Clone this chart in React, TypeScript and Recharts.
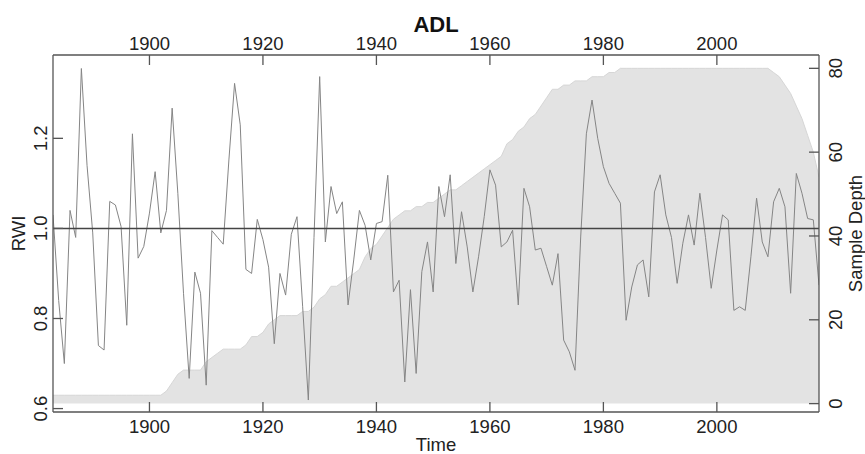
import { ComposedChart, Area, Line, XAxis, YAxis, ReferenceLine } from 'recharts';

// years 1883..2018
const firstYear = 1883;

const rwi = [
  1.03, 0.84, 0.70, 1.04, 0.98, 1.355, 1.14,
  0.99, 0.74, 0.73, 1.06, 1.052, 1.004, 0.785, 1.21, 0.934, 0.96,
  1.034, 1.126, 0.99, 1.04, 1.267, 1.078, 0.856, 0.667, 0.903, 0.856,
  0.652, 0.995, 0.98, 0.965, 1.152, 1.322, 1.23, 0.909, 0.90, 1.02,
  0.975, 0.914, 0.744, 0.90, 0.852, 0.987, 1.026, 0.826, 0.619, 0.98,
  1.337, 0.97, 1.093, 1.033, 1.059, 0.83, 0.93, 1.04, 1.007, 0.93,
  1.011, 1.015, 1.118, 0.859, 0.885, 0.659, 0.864, 0.678, 0.904, 0.97,
  0.859, 1.093, 1.026, 1.119, 0.922, 1.037, 0.959, 0.859, 0.937, 1.026,
  1.13, 1.096, 0.959, 0.97, 0.996, 0.83, 1.089, 1.048, 0.952, 0.956,
  0.915, 0.874, 0.944, 0.752, 0.726, 0.685, 0.981, 1.21, 1.285, 1.2,
  1.137, 1.1, 1.078, 1.056, 0.796, 0.87, 0.919, 0.93, 0.848, 1.081,
  1.119, 1.03, 0.98, 0.878, 0.967, 1.03, 0.963, 1.078, 0.98, 0.867,
  0.952, 1.03, 1.019, 0.818, 0.826, 0.818, 0.937, 1.067, 0.97, 0.937,
  1.059, 1.089, 1.048, 0.856, 1.122, 1.078, 1.022, 1.019, 0.874,
];

const sampleDepth = [
  2, 2, 2, 2, 2, 2, 2,
  2, 2, 2, 2, 2, 2, 2, 2, 2, 2,
  2, 2, 2, 3, 5, 7, 8, 8, 8, 8,
  10, 11, 12, 13, 13, 13, 13, 14, 16, 16,
  17, 19, 20, 21, 21, 21, 21, 22, 22, 23,
  25, 26, 28, 28, 29, 30, 31, 32, 35, 37,
  38, 40, 42, 44, 45, 46, 46, 47, 47, 48,
  48, 49, 50, 51, 51, 52, 53, 54, 55, 56,
  57, 58, 59, 62, 63, 65, 66, 68, 69, 71,
  73, 75, 75, 76, 76, 77, 77, 77, 78, 78,
  78, 79, 79, 80, 80, 80, 80, 80, 80, 80,
  80, 80, 80, 80, 80, 80, 80, 80, 80, 80,
  80, 80, 80, 80, 80, 80, 80, 80, 80, 80,
  79, 78, 76, 74, 71, 68, 64, 60, 54,
];

const yearTicks = [1900, 1920, 1940, 1960, 1980, 2000];
const rwiTicks = [0.6, 0.8, 1.0, 1.2];
const depthTicks = [0, 20, 40, 60, 80];

const data = rwi.map((v, i) => ({ year: firstYear + i, rwi: v, depth: sampleDepth[i] }));

const FONT = '"Liberation Sans", Arial, sans-serif';
const FS = 18.5;
const TXT = '#222';
const BOX = '#555';

const XTick = (props: any) => {
  const { x, y, payload } = props;
  return (
    <text x={x} y={y} textAnchor="middle" fontFamily={FONT} fontSize={FS} fill={TXT}>
      {payload.value}
    </text>
  );
};

const YTick = (props: any) => {
  const { x, y, payload, fmt } = props;
  return (
    <text x={x} y={y} transform={`rotate(-90 ${x} ${y})`} textAnchor="middle" fontFamily={FONT} fontSize={FS} fill={TXT}>
      {fmt ? fmt(payload.value) : payload.value}
    </text>
  );
};

export default function App() {
  return (
    <div style={{ position: 'absolute', left: 0, top: 0, background: '#fff' }}>
      <ComposedChart width={865} height={454} data={data} margin={{ top: 0, right: 0, bottom: 0, left: 0 }}>
        <XAxis
          xAxisId="bottom"
          dataKey="year"
          type="number"
          domain={[1883, 2018]}
          allowDataOverflow
          ticks={yearTicks}
          orientation="bottom"
          height={42}
          stroke={BOX}
          strokeWidth={1.3}
          tickSize={-10}
          tickMargin={30.5}
          tick={<XTick />}
          label={{
            content: (p: any) => {
              const vb = p.viewBox;
              return (
                <text x={vb.x + vb.width / 2} y={vb.y + 38.5} textAnchor="middle" fontFamily={FONT} fontSize={FS} fill={TXT}>
                  Time
                </text>
              );
            },
          }}
        />
        <XAxis
          xAxisId="top"
          dataKey="year"
          type="number"
          domain={[1883, 2018]}
          allowDataOverflow
          ticks={yearTicks}
          orientation="top"
          height={55}
          stroke={BOX}
          strokeWidth={1.3}
          tickSize={-10}
          tickMargin={15}
          tick={<XTick />}
          label={{
            content: (p: any) => {
              const vb = p.viewBox;
              return (
                <text x={vb.x + vb.width / 2} y={vb.y + 31.5} textAnchor="middle" fontFamily={FONT} fontSize={22} fontWeight="bold" fill="#111">
                  ADL
                </text>
              );
            },
          }}
        />
        <YAxis
          yAxisId="rwi"
          orientation="left"
          type="number"
          domain={[0.5924, 1.385]}
          allowDataOverflow
          ticks={rwiTicks}
          width={53}
          stroke={BOX}
          strokeWidth={1.3}
          tickSize={-10}
          tickMargin={16.3}
          tick={<YTick fmt={(v: number) => v.toFixed(1)} />}
          label={{
            content: (p: any) => {
              const vb = p.viewBox;
              const cx = vb.x + 25;
              const cy = vb.y + vb.height / 2;
              return (
                <text x={cx} y={cy} transform={`rotate(-90 ${cx} ${cy})`} textAnchor="middle" fontFamily={FONT} fontSize={FS} fill={TXT}>
                  RWI
                </text>
              );
            },
          }}
        />
        <YAxis
          yAxisId="depth"
          orientation="right"
          type="number"
          domain={[-2.0, 83.18]}
          allowDataOverflow
          ticks={depthTicks}
          width={46}
          stroke={BOX}
          strokeWidth={1.3}
          tickSize={-10}
          tickMargin={32.7}
          tick={<YTick />}
          label={{
            content: (p: any) => {
              const vb = p.viewBox;
              const cx = vb.x + 43;
              const cy = vb.y + vb.height / 2;
              return (
                <text x={cx} y={cy} transform={`rotate(-90 ${cx} ${cy})`} textAnchor="middle" fontFamily={FONT} fontSize={FS} fill={TXT}>
                  Sample Depth
                </text>
              );
            },
          }}
        />
        <Area
          xAxisId="bottom"
          yAxisId="depth"
          dataKey="depth"
          type="linear"
          baseValue={0}
          fill="#e3e3e3"
          fillOpacity={1}
          stroke="#d6d6d6"
          strokeWidth={1}
          isAnimationActive={false}
        />
        <Line
          xAxisId="bottom"
          yAxisId="rwi"
          dataKey="rwi"
          type="linear"
          stroke="#858585"
          strokeWidth={1}
          dot={false}
          activeDot={false}
          isAnimationActive={false}
        />
        <ReferenceLine xAxisId="bottom" yAxisId="rwi" y={1} stroke="#444" strokeWidth={1.5} />
      </ComposedChart>
    </div>
  );
}
